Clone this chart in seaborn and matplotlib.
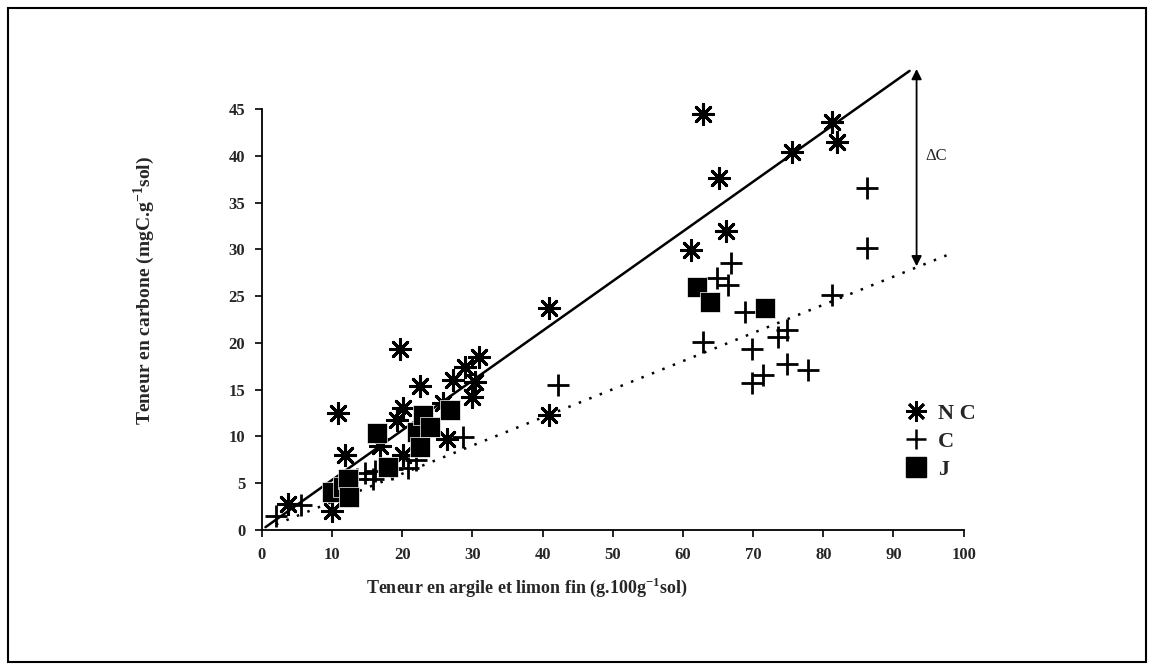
import pandas as pd
import numpy as np
import matplotlib.pyplot as plt
import seaborn as sns
from matplotlib.lines import Line2D
from matplotlib.patches import Rectangle

# =============================================
# 1. Données
# =============================================
nc_x = [3.7, 10.0, 11.8, 10.9, 19.7, 22.5, 20.1, 19.2, 27.2, 28.9, 31.0, 30.3, 30.0,
        25.8, 26.4, 16.8, 20.1, 40.9, 40.9, 61.2, 66.1, 65.2, 62.8, 75.5, 81.3, 82.0]
nc_y = [2.8, 2.0, 8.0, 12.5, 19.4, 15.4, 13.0, 11.8, 16.0, 17.4, 18.5, 15.8, 14.2,
        13.6, 9.7, 9.0, 8.0, 23.7, 12.3, 29.9, 32.0, 37.6, 44.5, 40.4, 43.6, 41.5]

c_x = [2.0, 5.5, 13.5, 14.7, 15.8, 16.1, 18.5, 20.8, 22.0, 28.6, 42.2, 62.8, 64.8,
       66.4, 66.9, 68.8, 69.9, 69.8, 71.4, 73.5, 74.8, 74.8, 77.8, 81.2, 86.3, 86.2]
c_y = [1.5, 2.7, 5.5, 6.1, 5.5, 6.3, 6.5, 6.6, 7.5, 9.9, 15.5, 20.1, 26.9,
       26.2, 28.6, 23.3, 19.4, 15.7, 16.6, 20.6, 21.4, 17.8, 17.1, 25.1, 30.2, 36.6]

j_x = [10.0, 11.5, 12.2, 12.4, 16.4, 17.9, 22.1, 22.5, 23.0, 23.9, 26.8, 62.0, 63.8, 71.7]
j_y = [4.1, 4.6, 5.4, 3.5, 10.4, 6.7, 10.5, 8.9, 12.3, 11.0, 12.8, 26.0, 24.4, 23.7]

# droites (extrémités) et écart ΔC
ligne_nc_x = [0.5, 92.3]
ligne_nc_y = [0.3, 49.1]
ligne_c_x = [2.0, 98.0]
ligne_c_y = [0.6, 29.5]
delta_x = 93.3
delta_bas, delta_haut = 28.2, 49.3

df = pd.DataFrame({
    "x": nc_x + c_x + j_x,
    "y": nc_y + c_y + j_y,
    "groupe": ["N C"] * len(nc_x) + ["C"] * len(c_x) + ["J"] * len(j_x),
})

# =============================================
# 2. Graphique
# =============================================
sns.set_style("ticks")
plt.rcParams["font.family"] = ["Liberation Serif", "DejaVu Serif"]
plt.rcParams["font.weight"] = "bold"
plt.rcParams["mathtext.fontset"] = "custom"
plt.rcParams["mathtext.rm"] = "Liberation Serif:bold"
plt.rcParams["mathtext.bf"] = "Liberation Serif:bold"

fig = plt.figure(figsize=(11.54, 6.70), dpi=100)
ax = fig.add_axes([0.227, 0.209, 0.608, 0.628])

asterisque = (8, 2, 0)
styles = {"N C": (asterisque, 210, 2.2), "C": ("+", 230, 2.0), "J": ("s", 200, 0.5)}
for g, (m, s, lw) in styles.items():
    sns.scatterplot(data=df[df["groupe"] == g], x="x", y="y", marker=m, s=s,
                    color="black", edgecolor="white" if g == "J" else "black",
                    linewidth=lw, ax=ax, legend=False, clip_on=False, zorder=3)

ax.plot(ligne_nc_x, ligne_nc_y, color="black", lw=1.8, clip_on=False)
ax.plot(ligne_c_x, ligne_c_y, color="black", lw=1.8, ls=(0, (1, 3.5)), clip_on=False)

ax.annotate("", xy=(delta_x, delta_haut), xytext=(delta_x, delta_bas),
            arrowprops=dict(arrowstyle="<|-|>", color="black", lw=1.3,
                            mutation_scale=15, shrinkA=0, shrinkB=0),
            annotation_clip=False)
ax.text(delta_x + 1.3, 40, "ΔC", fontsize=12, fontweight="normal", va="center", ha="left")

ax.set_xlim(0, 100)
ax.set_ylim(0, 45)
ax.set_xticks(range(0, 101, 10))
ax.set_yticks(range(0, 46, 5))
ax.tick_params(axis="both", direction="out", length=5, width=1.2, labelsize=12,
               color="black", pad=7)
for lab in ax.get_xticklabels() + ax.get_yticklabels():
    lab.set_fontweight("bold")

sns.despine(ax=ax)
for sp in ("left", "bottom"):
    ax.spines[sp].set_color("black")
    ax.spines[sp].set_linewidth(1.3)

ax.set_xlabel(r"Teneur en argile et limon fin (g.100g$^{-1}$sol)", fontsize=13, fontweight="bold")
ax.set_ylabel(r"Teneur en carbone (mgC.g$^{-1}$sol)", fontsize=14, fontweight="bold")
ax.xaxis.set_label_coords(0.377, -0.108)
ax.yaxis.set_label_coords(-0.15, 0.57)

poignees = [
    Line2D([], [], marker=asterisque, color="black", ls="", markersize=15, markeredgewidth=2.0),
    Line2D([], [], marker="+", color="black", ls="", markersize=15, markeredgewidth=1.8),
    Line2D([], [], marker="s", color="black", ls="", markersize=14),
]
ax.legend(poignees, ["N C", "C", "J"], loc="center left", bbox_to_anchor=(0.884, 0.21),
          frameon=False, prop={"size": 16, "weight": "bold"}, handletextpad=0.4,
          labelspacing=0.32, handlelength=1.2)

fig.patches.append(Rectangle((0.007, 0.012), 0.986, 0.976, transform=fig.transFigure,
                             fill=False, edgecolor="black", lw=1.5))

fig.savefig("out.png", dpi=100)
